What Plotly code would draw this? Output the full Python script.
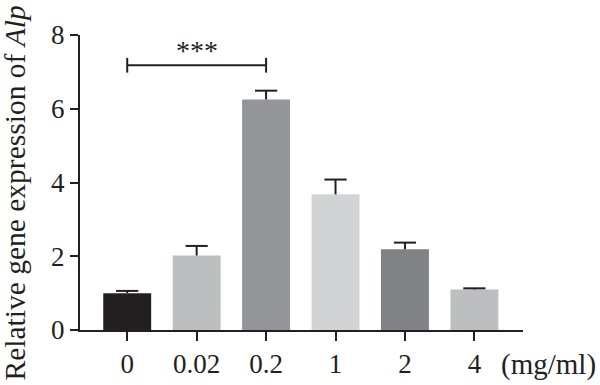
import plotly.graph_objects as go

categories = ["0", "0.02", "0.2", "1", "2", "4"]
means = [1.00, 2.02, 6.25, 3.68, 2.19, 1.10]
errors_up = [0.06, 0.26, 0.24, 0.40, 0.18, 0.03]
bar_colors = ["#231f20", "#bcbec0", "#939598", "#d1d3d4", "#808285", "#bcbec0"]
y_ticks = [0, 2, 4, 6, 8]
sig_pair = [0, 2]
sig_y = 7.18
sig_cap = 0.2
sig_label = "***"
unit_label = "(mg/ml)"
y_title = "Relative gene expression of <i>Alp</i>"

FONT = "Liberation Serif"
INK = "#231f20"
xs = list(range(len(categories)))
cap_half = 0.16

fig = go.Figure()
fig.add_trace(go.Bar(
    x=xs, y=means, width=0.69,
    marker=dict(color=bar_colors, line=dict(width=0)),
    hoverinfo="skip",
))

# upward-only error bars built from the data
ex, ey = [], []
for x, m, e in zip(xs, means, errors_up):
    ex += [x, x, None, x - cap_half, x + cap_half, None]
    ey += [m, m + e, None, m + e, m + e, None]
fig.add_trace(go.Scatter(x=ex, y=ey, mode="lines",
                         line=dict(color=INK, width=2), hoverinfo="skip"))

x0, x1 = sig_pair
fig.add_shape(type="line", x0=x0, x1=x1, y0=sig_y, y1=sig_y,
              line=dict(color=INK, width=2))
for xx in sig_pair:
    fig.add_shape(type="line", x0=xx, x1=xx, y0=sig_y - sig_cap, y1=sig_y + sig_cap,
                  line=dict(color=INK, width=2))
fig.add_annotation(x=(x0 + x1) / 2, y=sig_y, text=sig_label, showarrow=False,
                   yanchor="bottom", yshift=-3,
                   font=dict(family=FONT, size=28, color=INK))
fig.add_annotation(xref="paper", yref="paper", x=0.946, y=0, xanchor="left",
                   yanchor="top", yshift=-16, text=unit_label, showarrow=False,
                   font=dict(family=FONT, size=29, color=INK))
fig.add_annotation(xref="paper", yref="paper", x=0, y=0.5, xshift=-66, yshift=-11,
                   xanchor="center", yanchor="middle",
                   textangle=-90, showarrow=False, text=y_title,
                   font=dict(family=FONT, size=29.5, color=INK))

fig.update_layout(
    width=600, height=385,
    margin=dict(l=80, r=77, t=35, b=55),
    plot_bgcolor="white", paper_bgcolor="white",
    showlegend=False,
    font=dict(family=FONT, size=26, color=INK),
)
fig.update_xaxes(
    range=[-0.68, 5.7], tickvals=xs, ticktext=categories,
    showline=True, linecolor=INK, linewidth=2,
    ticks="outside", ticklen=9, tickwidth=2, tickcolor=INK,
    showgrid=False, zeroline=False, automargin=False,
    tickfont=dict(family=FONT, size=27, color=INK),
)
fig.update_yaxes(
    range=[0, 8], tickvals=y_ticks, ticksuffix="\u2009",
    showline=True, linecolor=INK, linewidth=2,
    ticks="outside", ticklen=8, tickwidth=2, tickcolor=INK,
    showgrid=False, zeroline=False, automargin=False,
    tickfont=dict(family=FONT, size=27, color=INK),
)

fig.write_html("out.html", config={"displayModeBar": False},
               post_script="document.body.style.margin='0';document.body.style.overflow='hidden';")
